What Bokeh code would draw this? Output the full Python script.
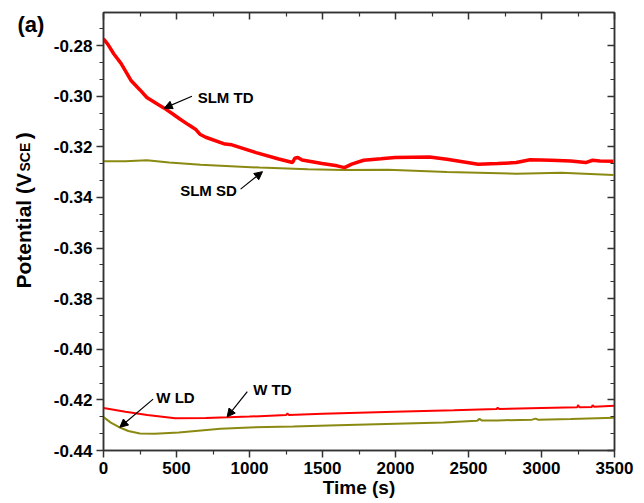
import math
from bokeh.plotting import figure
from bokeh.models import (Range1d, FixedTicker, PrintfTickFormatter, LinearAxis,
                          Label, Arrow, NormalHead, CustomJSTickFormatter)
from bokeh.embed import file_html
from bokeh.resources import INLINE

# ---- data ----
slm_td_t = [0, 30, 71, 120, 190, 250, 297, 360, 416, 470, 523, 580, 630, 660, 700, 832, 879, 1045, 1200, 1295, 1310, 1331, 1360,
            1497, 1600, 1651, 1700, 1782, 1900, 1996, 2233, 2352, 2566, 2700, 2827, 2922, 3065, 3200, 3303, 3350, 3400, 3493]
slm_td_v = [-0.2773, -0.2795, -0.2833, -0.2870, -0.2939, -0.2975, -0.3005, -0.3028, -0.3047, -0.3068, -0.3090, -0.3112,
            -0.3130, -0.3150, -0.3162, -0.3189, -0.3192, -0.3223,
            -0.3248, -0.3262, -0.3245, -0.3242, -0.3252, -0.3266, -0.3275, -0.3282, -0.3268, -0.3253, -0.3247, -0.3242,
            -0.3240, -0.3249, -0.3269, -0.3266, -0.3262, -0.3251, -0.3253, -0.3256, -0.3262, -0.3253, -0.3256, -0.3257]

slm_sd_t = [0, 150, 297, 450, 665, 1069, 1400, 1640, 1948, 2352, 2827, 3136, 3493]
slm_sd_v = [-0.3257, -0.3257, -0.3253, -0.3262, -0.3271, -0.3282, -0.3288, -0.3291, -0.3290, -0.3299, -0.3306, -0.3302, -0.3311]

w_td_t = [0, 150, 300, 491, 700, 854, 1000, 1250, 1260, 1270, 1500, 1992, 2400, 2693, 2700, 2710, 3000,
          3245, 3250, 3260, 3345, 3350, 3360, 3500]
w_td_v = [-0.4232, -0.4247, -0.4260, -0.4273, -0.4272, -0.4269, -0.4266, -0.4260, -0.4254, -0.4260, -0.4255, -0.4247,
          -0.4241, -0.4236, -0.4231, -0.4236, -0.4232, -0.4229, -0.4221, -0.4229, -0.4228, -0.4221, -0.4227, -0.4223]

w_ld_t = [0, 50, 104, 170, 249, 350, 515, 801, 999, 1300, 1604, 2000, 2330, 2524, 2560, 2575, 2590, 2700,
          2935, 2960, 2975, 3200, 3500]
w_ld_v = [-0.4268, -0.4290, -0.4307, -0.4323, -0.4333, -0.4334, -0.4329, -0.4314, -0.4309, -0.4305, -0.4300, -0.4294,
          -0.4289, -0.4283, -0.4282, -0.4275, -0.4281, -0.4281, -0.4278, -0.4274, -0.4278, -0.4276, -0.4271]

x_ticks = [0, 500, 1000, 1500, 2000, 2500, 3000, 3500]
y_ticks = [-0.44, -0.42, -0.40, -0.38, -0.36, -0.34, -0.32, -0.30, -0.28]

RED = "#ff0000"
OLIVE = "#8a8a12"
FONT = "Liberation Sans"
AX = "#333333"

p = figure(width=644, height=503, output_backend="svg", toolbar_location=None,
           x_range=Range1d(0, 3500), y_range=Range1d(-0.44, -0.2669),
           min_border_left=103, min_border_right=30, min_border_top=12, min_border_bottom=53,
           x_axis_label="Time (s)", y_axis_label=None)
p.background_fill_color = "white"
p.border_fill_color = "white"
p.outline_line_color = AX
p.outline_line_width = 1.5
p.xgrid.visible = False
p.ygrid.visible = False

x_minor = [t + 250 for t in x_ticks[:-1]]
y_minor = []
for v in y_ticks[:-1]:
    y_minor += [v + 0.02 / 3, v + 0.04 / 3]
y_minor += [-0.28 + 0.02 / 3, -0.28 + 0.04 / 3]

xa = p.xaxis[0]
xa.ticker = FixedTicker(ticks=x_ticks, minor_ticks=x_minor)
xa.formatter = PrintfTickFormatter(format="%d")
ya = p.yaxis[0]
ya.ticker = FixedTicker(ticks=y_ticks, minor_ticks=y_minor)
ya.formatter = PrintfTickFormatter(format="%.2f")
ya.axis_label = None

for ax in (xa, ya):
    ax.axis_line_color = AX
    ax.axis_line_width = 1.5
    ax.major_tick_line_color = AX
    ax.minor_tick_line_color = AX
    ax.major_tick_line_width = 1.5
    ax.minor_tick_line_width = 1.2
    ax.major_tick_in = 0
    ax.major_tick_out = 7
    ax.minor_tick_in = 0
    ax.minor_tick_out = 4
    ax.major_label_text_font = FONT
    ax.major_label_text_font_style = "bold"
    ax.major_label_text_font_size = "17px"
    ax.major_label_text_color = "black"
    ax.major_label_standoff = 4
xa.axis_label_text_font = FONT
xa.axis_label_text_font_style = "bold"
xa.axis_label_text_font_size = "19px"
xa.axis_label_text_color = "black"
xa.axis_label_standoff = 0

# mirror axes (ticks inward, no labels)
top = LinearAxis(ticker=FixedTicker(ticks=x_ticks, minor_ticks=x_minor))
right = LinearAxis(ticker=FixedTicker(ticks=y_ticks, minor_ticks=y_minor))
for ax in (top, right):
    ax.formatter = CustomJSTickFormatter(code="return ''")
    ax.axis_line_color = AX
    ax.axis_line_width = 1.5
    ax.major_tick_line_color = AX
    ax.minor_tick_line_color = AX
    ax.major_tick_line_width = 1.5
    ax.minor_tick_line_width = 1.2
    ax.major_tick_in = 7
    ax.major_tick_out = 0
    ax.minor_tick_in = 4
    ax.minor_tick_out = 0
    ax.major_label_text_color = None
    ax.major_label_text_font_size = "1px"
    ax.major_label_standoff = 0
p.add_layout(top, "above")
p.add_layout(right, "right")

# curves
p.line(w_ld_t, w_ld_v, line_color=OLIVE, line_width=2)
p.line(slm_sd_t, slm_sd_v, line_color=OLIVE, line_width=2)
p.line(w_td_t, w_td_v, line_color=RED, line_width=2)
p.line(slm_td_t, slm_td_v, line_color=RED, line_width=3.5)

# annotations
def tag(text, x, y):
    p.add_layout(Label(x=x, y=y, text=text, text_align="center", text_baseline="middle",
                       text_font=FONT, text_font_style="bold", text_font_size="15px",
                       text_color="black"))

def arrow(x0, y0, x1, y1):
    p.add_layout(Arrow(end=NormalHead(size=8, fill_color="black", line_color="black"),
                       x_start=x0, y_start=y0, x_end=x1, y_end=y1,
                       line_color="black", line_width=1.2))

tag("SLM TD", 836, -0.3005)
arrow(606, -0.3000, 416, -0.3047)
tag("SLM SD", 719, -0.3374)
arrow(939, -0.3367, 1089, -0.3298)
tag("W LD", 493, -0.4189)
arrow(340, -0.4197, 112, -0.4308)
tag("W TD", 1157, -0.4160)
arrow(985, -0.4167, 847, -0.4267)

# panel tag and y-axis title, hosted in side panels (centre annotations are clipped to the frame)
def stext(text, x, y, size, side, angle=0.0):
    p.add_layout(Label(x=x, y=y, text=text, angle=angle,
                       text_align="left", text_baseline="alphabetic",
                       text_font=FONT, text_font_style="bold", text_font_size=size,
                       text_color="black"), side)

stext("Potential (V" + "\u2009" * 8 + ")", -547.9, -0.37598, "21px", "left", math.pi / 2)
stext("(a)", -589, -0.27164, "22px", "left")
stext("SCE", -541.0, -0.32974, "14px", "right", math.pi / 2)

open("out.html", "w").write(file_html(p, INLINE))
